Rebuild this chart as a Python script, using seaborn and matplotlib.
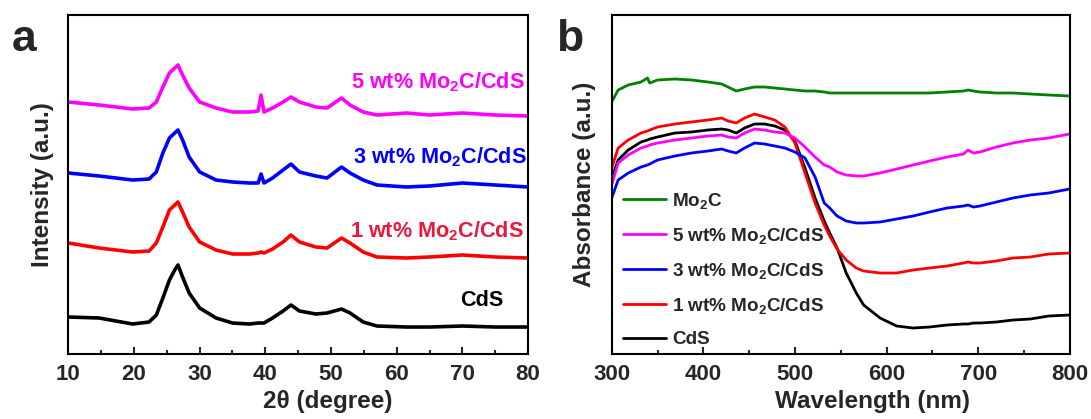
import matplotlib
matplotlib.use("Agg")
import matplotlib.pyplot as plt
import seaborn as sns
from matplotlib.ticker import MultipleLocator

# ---- panel a: XRD (2theta, intensity in a.u.) ----
xrd_x = [10, 14.7, 19.8, 22.3, 23.4, 24.4, 25.4, 26.2, 26.7, 27.4, 28.4, 30.0,
         32.5, 35.0, 37.6, 38.9, 39.35, 39.8, 41.1, 42.7, 43.9, 45.2, 47.7,
         49.4, 51.6, 52.9, 54.9, 57.0, 61.5, 65, 70, 75, 80]
xrd_cds = [34, 33, 27, 29, 36, 53, 71, 81, 86, 74, 58, 43,
           33, 28, 27, 28, 28, 28, 33, 40, 46, 40, 37,
           38, 42, 38, 29, 25, 24, 24, 25, 24, 24]
xrd_1wt = [108, 103, 99, 100, 108, 124, 141, 146, 149, 139, 124, 109,
           101, 97, 97, 98, 99, 98, 102, 109, 116, 109, 104,
           103, 113, 108, 99, 94, 93, 94, 96, 94, 93]
xrd_3wt = [178, 175, 171, 172, 179, 198, 213, 218, 221, 211, 194, 179,
           171, 169, 168, 168, 177, 168, 173, 181, 187, 179, 175,
           173, 184, 178, 171, 166, 164, 165, 168, 166, 164]
xrd_5wt = [249, 246, 242, 243, 249, 264, 278, 283, 286, 276, 263, 249,
           243, 239, 239, 240, 256, 239, 243, 249, 254, 249, 244,
           243, 253, 246, 239, 236, 238, 236, 238, 236, 235]

# ---- panel b: UV-vis absorbance ----
uv_x = [300, 307, 318, 332, 339, 341.5, 350, 369, 387, 405, 420, 427, 436, 445,
        456, 467, 478, 489, 500, 511, 522, 532, 538, 546, 556, 567, 575, 593,
        611, 629, 647, 666, 684, 689, 695, 702, 720, 738, 757, 777, 800]
uv_mo2c = [249, 261, 266, 269, 273, 268, 271, 272, 271, 269, 267, 264, 260, 262,
           264, 264, 263, 262, 261, 260, 260, 259, 258, 258, 258, 258, 258, 258,
           258, 258, 258, 259, 260, 261, 260, 259, 258, 258, 257, 256, 255]
uv_1wt = [183, 203, 211, 218, 220, 221, 224, 227, 229, 231, 233, 230, 228, 233,
          237, 234, 231, 224, 208, 178, 148, 126, 115, 102, 91, 83, 80, 78,
          78, 81, 83, 85, 88, 89, 88, 88, 90, 93, 94, 97, 98]
uv_cds = [173, 191, 201, 209, 211, 212, 214, 218, 219, 221, 222, 221, 218, 223,
          227, 227, 225, 221, 210, 183, 153, 130, 118, 103, 78, 58, 46, 33,
          25, 23, 24, 26, 27, 27, 28, 28, 29, 31, 32, 35, 36]
uv_5wt = [166, 188, 196, 203, 205, 206, 208, 211, 213, 215, 216, 214, 213, 218,
          222, 221, 219, 218, 213, 204, 194, 186, 184, 179, 176, 175, 175, 178,
          182, 186, 190, 194, 197, 201, 198, 199, 204, 208, 211, 213, 217]
uv_3wt = [153, 171, 178, 184, 186, 187, 191, 195, 198, 200, 202, 200, 198, 203,
          208, 207, 205, 203, 199, 193, 174, 148, 143, 135, 130, 128, 128, 129,
          132, 135, 139, 143, 145, 146, 144, 145, 149, 153, 156, 158, 162]

labels = ["CdS", "1 wt% Mo$_2$C/CdS", "3 wt% Mo$_2$C/CdS", "5 wt% Mo$_2$C/CdS", "Mo$_2$C"]
colors = ["black", "#FF0000", "#0000FF", "#FF00FF", "#008000"]

sns.set_style("ticks")
plt.rcParams["font.family"] = ["Liberation Sans", "DejaVu Sans"]
plt.rcParams["font.weight"] = "bold"
plt.rcParams["mathtext.fontset"] = "custom"
plt.rcParams["mathtext.bf"] = "Liberation Sans:bold"
plt.rcParams["mathtext.rm"] = "Liberation Sans:bold"
plt.rcParams["mathtext.default"] = "bf"

fig = plt.figure(figsize=(10.91, 4.19), dpi=100)
ax_a = fig.add_axes([0.0626, 0.1551, 0.4214, 0.8091])
ax_b = fig.add_axes([0.5607, 0.1551, 0.4198, 0.8091])


def style_axes(ax):
    for sp in ax.spines.values():
        sp.set_linewidth(1.5)
        sp.set_color("black")
    ax.tick_params(axis="x", which="major", direction="in", length=5, width=1.5,
                   labelsize=16, pad=7, top=False)
    ax.tick_params(axis="x", which="minor", direction="in", length=3, width=1.5, top=False)
    ax.set_yticks([])
    for t in ax.get_xticklabels():
        t.set_fontweight("bold")


# panel a
xrd_series = [xrd_cds, xrd_1wt, xrd_3wt, xrd_5wt]
for vals, col in zip(xrd_series, colors):
    sns.lineplot(x=xrd_x, y=vals, color=col, linewidth=2.6, sort=False, ax=ax_a)
ax_a.set_xlim(10, 80)
ax_a.set_ylim(-3, 336)
ax_a.xaxis.set_major_locator(MultipleLocator(10))
ax_a.xaxis.set_minor_locator(MultipleLocator(5))
style_axes(ax_a)
ax_a.set_xlabel("2θ (degree)", fontsize=17.5, fontweight="bold")
ax_a.set_ylabel("Intensity (a.u.)", fontsize=17.5, fontweight="bold")
ax_a.xaxis.set_label_coords(0.565, -0.106)
ax_a.yaxis.set_label_coords(-0.032, 0.5)

text_pos = [(76.2, 45), (79.4, 114), (79.8, 188), (79.5, 263)]
text_cols = ["black", "#E8193C", "#0000FF", "#FF00FF"]
for (tx, ty), lab, col in zip(text_pos, labels[:4], text_cols):
    ax_a.text(tx, ty, lab, color=col, fontsize=15.6, fontweight="bold",
              ha="right", va="baseline")

# panel b
uv_series = [uv_cds, uv_1wt, uv_3wt, uv_5wt, uv_mo2c]
for vals, col, lab in zip(uv_series, colors, labels):
    sns.lineplot(x=uv_x, y=vals, color=col, linewidth=2.0, sort=False, ax=ax_b, label=lab)
ax_b.set_xlim(300, 800)
ax_b.set_ylim(-3, 336)
ax_b.xaxis.set_major_locator(MultipleLocator(100))
ax_b.xaxis.set_minor_locator(MultipleLocator(50))
style_axes(ax_b)
ax_b.set_xlabel("Wavelength (nm)", fontsize=17.5, fontweight="bold")
ax_b.set_ylabel("Absorbance (a.u.)", fontsize=17.5, fontweight="bold")
ax_b.xaxis.set_label_coords(0.57, -0.106)
ax_b.yaxis.set_label_coords(-0.034, 0.5)

h, l = ax_b.get_legend_handles_labels()
order = [4, 3, 2, 1, 0]
ax_b.legend([h[i] for i in order], [l[i] for i in order], loc="lower left",
            bbox_to_anchor=(0.012, 0.0), frameon=False, fontsize=13.6,
            handlelength=2.3, handletextpad=0.3, labelspacing=0.8,
            borderaxespad=0.1, borderpad=0.2)

fig.text(0.011, 0.955, "a", fontsize=32, fontweight="bold", va="top", ha="left")
fig.text(0.510, 0.955, "b", fontsize=32, fontweight="bold", va="top", ha="left")

fig.savefig("out.png", dpi=100)
